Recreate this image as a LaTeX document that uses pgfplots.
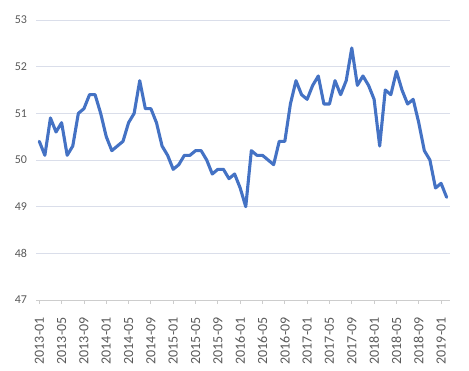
\documentclass[border=0pt]{standalone}
\usepackage{fontspec}
\setmainfont{Carlito}
\usepackage{pgfplots}
\pgfplotsset{compat=1.18}
\definecolor{linec}{HTML}{4472C4}
\definecolor{gridc}{RGB}{218,222,234}
\definecolor{axisc}{RGB}{205,205,205}
\definecolor{labc}{HTML}{595959}
\begin{document}
\begin{tikzpicture}
\useasboundingbox (-36.5bp,-71bp) rectangle (432.5bp,300bp);
\begin{axis}[
  at={(0,0)}, anchor=south west,
  scale only axis,
  width=413.5bp, height=280bp,
  xmin=-0.5, xmax=73.6,
  ymin=47, ymax=53,
  ytick={47,48,...,53},
  xtick={0,4,...,72},
  xticklabels={2013-01,2013-05,2013-09,2014-01,2014-05,2014-09,2015-01,2015-05,2015-09,2016-01,2016-05,2016-09,2017-01,2017-05,2017-09,2018-01,2018-05,2018-09,2019-01},
  /pgf/number format/assume math mode=true,
  axis line style={draw=none},
  axis x line*=bottom,
  x axis line style={draw=axisc, line width=0.8bp},
  axis y line*=left,
  y axis line style={draw=none},
  ymajorgrids,
  grid style={draw=gridc, line width=0.9bp},
  major y tick style={draw=none},
  major x tick style={draw=axisc, line width=0.8bp},
  xtick align=outside,
  major tick length=4bp,
  yticklabel style={font=\fontsize{12bp}{14bp}\selectfont, text=labc, xshift=-6bp},
  xticklabel style={font=\fontsize{14bp}{16bp}\selectfont, text=labc, rotate=90, anchor=east, xshift=-10bp},
  clip=false,
]
\addplot[color=linec, line width=3.1bp, line join=round, line cap=round, mark=none] table[x=i, y=v] {
i v
0 50.4
1 50.1
2 50.9
3 50.6
4 50.8
5 50.1
6 50.3
7 51.0
8 51.1
9 51.4
10 51.4
11 51.0
12 50.5
13 50.2
14 50.3
15 50.4
16 50.8
17 51.0
18 51.7
19 51.1
20 51.1
21 50.8
22 50.3
23 50.1
24 49.8
25 49.9
26 50.1
27 50.1
28 50.2
29 50.2
30 50.0
31 49.7
32 49.8
33 49.8
34 49.6
35 49.7
36 49.4
37 49.0
38 50.2
39 50.1
40 50.1
41 50.0
42 49.9
43 50.4
44 50.4
45 51.2
46 51.7
47 51.4
48 51.3
49 51.6
50 51.8
51 51.2
52 51.2
53 51.7
54 51.4
55 51.7
56 52.4
57 51.6
58 51.8
59 51.6
60 51.3
61 50.3
62 51.5
63 51.4
64 51.9
65 51.5
66 51.2
67 51.3
68 50.8
69 50.2
70 50.0
71 49.4
72 49.5
73 49.2
};
\end{axis}
\end{tikzpicture}
\end{document}
